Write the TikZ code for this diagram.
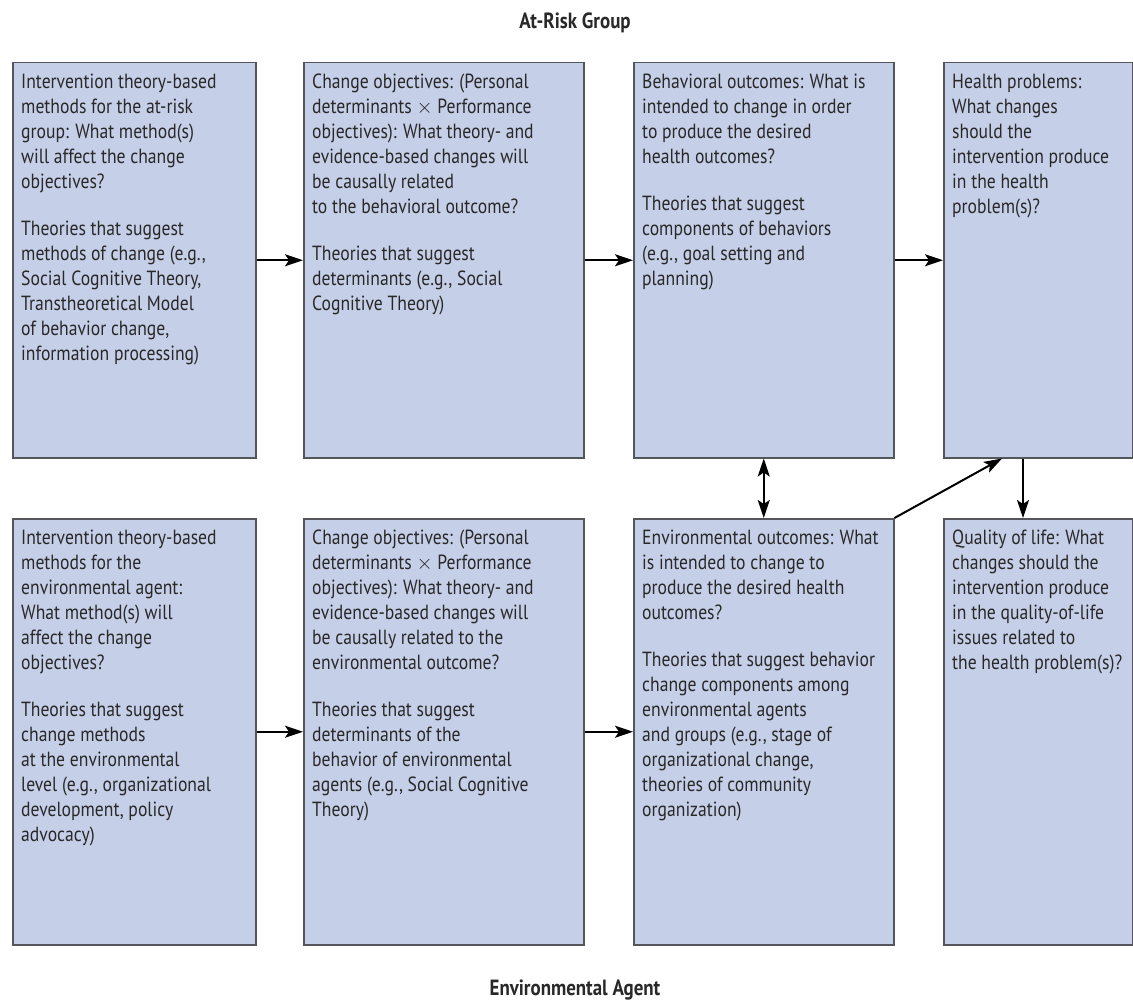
\documentclass[tikz,border=0pt]{standalone}
\usepackage{fontspec}
\setmainfont[FakeStretch=0.86]{PT Sans}
\usetikzlibrary{arrows.meta}
\definecolor{boxfill}{RGB}{198,207,232}
\definecolor{boxline}{RGB}{85,85,92}
\definecolor{inkcol}{RGB}{40,40,40}
\newcommand{\firstln}{\rule{0pt}{17pt}}
\begin{document}
\begin{tikzpicture}[x=1pt,y=-1pt,
  panel/.style={draw=boxline,line width=1.5pt,fill=boxfill,anchor=north west,inner sep=0pt},
  toprow/.style={minimum height=395pt},
  botrow/.style={minimum height=426pt},
  txt/.style={anchor=north west,align=left,inner sep=0pt,font=\fontsize{20.5}{25}\selectfont,text=inkcol},
  ttl/.style={anchor=base,inner sep=0pt,font=\bfseries\fontsize{22}{26}\selectfont,text=inkcol},
  tip/.style={Stealth[length=18pt,width=12pt,inset=4pt]},
  arr/.style={-{Stealth[length=18pt,width=12pt,inset=4pt]},line width=2pt,draw=black},
  darr/.style={{Stealth[length=18pt,width=12pt,inset=4pt]}-{Stealth[length=18pt,width=12pt,inset=4pt]},line width=2pt,draw=black},
  ]
\useasboundingbox (0,0) rectangle (1133,1000);

% titles
\node[ttl] (title1) at (575,29) {At-Risk Group};
\node[ttl] (title2) at (575,995) {Environmental Agent};

% top row panels
\node[panel,toprow,minimum width=243pt] (t1) at (12,62) {};
\node[panel,toprow,minimum width=280pt] (t2) at (303,62) {};
\node[panel,toprow,minimum width=260pt] (t3) at (633,62) {};
\node[panel,toprow,minimum width=189pt] (t4) at (943,62) {};

% bottom row panels
\node[panel,botrow,minimum width=243pt] (b1) at (12,518) {};
\node[panel,botrow,minimum width=280pt] (b2) at (303,518) {};
\node[panel,botrow,minimum width=260pt] (b3) at (633,518) {};
\node[panel,botrow,minimum width=189pt] (b4) at (943,518) {};

% top row texts
\node[txt] (t1x) at ([xshift=9pt,yshift=-9pt]t1.north west) {\firstln Intervention theory-based\\ methods for the at-risk\\ group: What method(s)\\ will affect the change\\ objectives?\\[22pt] Theories that suggest\\ methods of change (e.g.,\\ Social Cognitive Theory,\\ Transtheoretical Model\\ of behavior change,\\ information processing)};
\node[txt] (t2x) at ([xshift=9pt,yshift=-9pt]t2.north west) {\firstln Change objectives: (Personal\\ determinants $\times$ Performance\\ objectives): What theory- and\\ evidence-based changes will\\ be causally related\\ to the behavioral outcome?\\[22pt] Theories that suggest\\ determinants (e.g., Social\\ Cognitive Theory)};
\node[txt] (t3x) at ([xshift=9pt,yshift=-9pt]t3.north west) {\firstln Behavioral outcomes: What is\\ intended to change in order\\ to produce the desired\\ health outcomes?\\[22pt] Theories that suggest\\ components of behaviors\\ (e.g., goal setting and\\ planning)};
\node[txt] (t4x) at ([xshift=9pt,yshift=-9pt]t4.north west) {\firstln Health problems:\\ What changes\\ should the\\ intervention produce\\ in the health\\ problem(s)?};

% bottom row texts
\node[txt] (b1x) at ([xshift=9pt,yshift=-9pt]b1.north west) {\firstln Intervention theory-based\\ methods for the\\ environmental agent:\\ What method(s) will\\ affect the change\\ objectives?\\[22pt] Theories that suggest\\ change methods\\ at the environmental\\ level (e.g., organizational\\ development, policy\\ advocacy)};
\node[txt] (b2x) at ([xshift=9pt,yshift=-9pt]b2.north west) {\firstln Change objectives: (Personal\\ determinants $\times$ Performance\\ objectives): What theory- and\\ evidence-based changes will\\ be causally related to the\\ environmental outcome?\\[22pt] Theories that suggest\\ determinants of the\\ behavior of environmental\\ agents (e.g., Social Cognitive\\ Theory)};
\node[txt] (b3x) at ([xshift=9pt,yshift=-9pt]b3.north west) {\firstln Environmental outcomes: What\\ is intended to change to\\ produce the desired health\\ outcomes?\\[22pt] Theories that suggest behavior\\ change components among\\ environmental agents\\ and groups (e.g., stage of\\ organizational change,\\ theories of community\\ organization)};
\node[txt] (b4x) at ([xshift=9pt,yshift=-9pt]b4.north west) {\firstln Quality of life: What\\ changes should the\\ intervention produce\\ in the quality-of-life\\ issues related to\\ the health problem(s)?};

% connectors
\draw[arr] (t1.east) -- (t2.west);
\draw[arr] (t2.east) -- (t3.west);
\draw[arr] (t3.east) -- (t4.west);
\draw[arr] (b1.east) -- (b2.west);
\draw[arr] (b2.east) -- (b3.west);
\draw[darr] (t3.south) -- (b3.north);
\coordinate (downTop) at ([xshift=80pt]t4.south west);
\coordinate (downBot) at ([xshift=80pt]b4.north west);
\draw[arr] (downTop) -- (downBot);
\coordinate (diagEnd) at ([xshift=59pt]t4.south west);
\draw[arr] (b3.north east) -- (diagEnd);
\end{tikzpicture}
\end{document}
